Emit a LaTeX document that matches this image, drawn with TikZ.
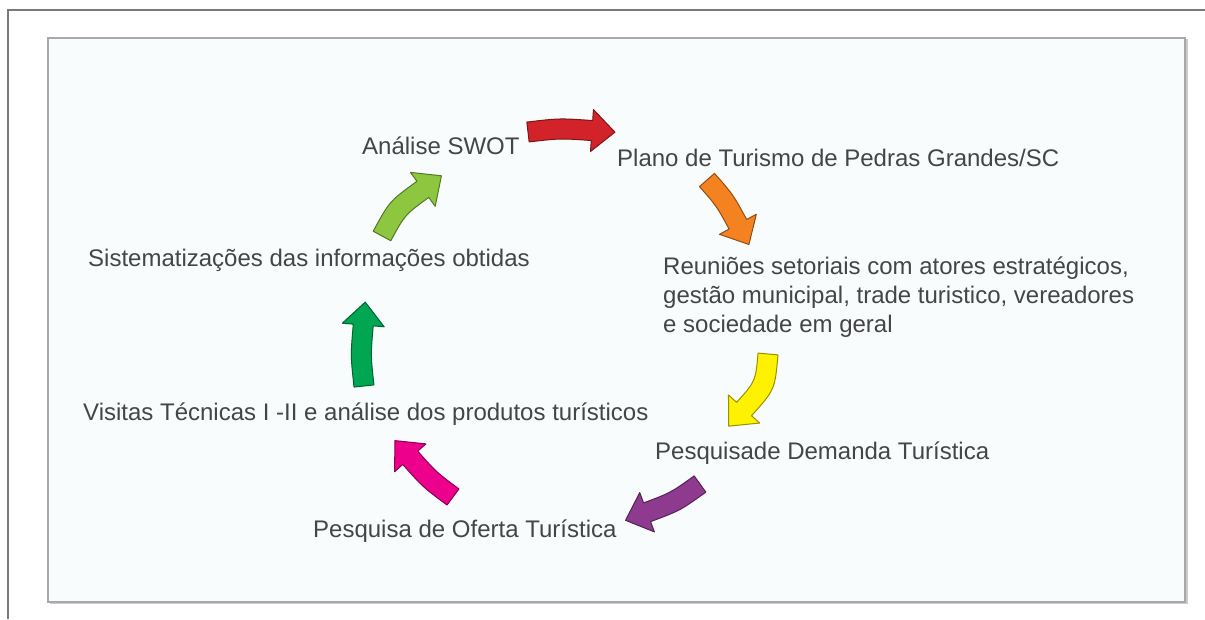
\documentclass[tikz,border=0pt]{standalone}
\usepackage{fontspec}
\setmainfont{Liberation Sans}
\definecolor{txt}{HTML}{454545}
\definecolor{framegray}{HTML}{7A7A7A}
\definecolor{boxgray}{HTML}{A8A8A8}
\definecolor{boxfill}{HTML}{F8FCFD}
\definecolor{cred}{HTML}{D2232A}
\definecolor{corange}{HTML}{F58220}
\definecolor{cyellow}{HTML}{FFF200}
\definecolor{cpurple}{HTML}{8E3A8F}
\definecolor{cpink}{HTML}{EC008C}
\definecolor{cgreen}{HTML}{00A651}
\definecolor{clgreen}{HTML}{8DC63F}
% curved block arrow: tail coordinate, chord angle, length, colour, bend
\newcommand\blockarrow[5]{%
  \pgfmathsetmacro\baS{#3-23}%
  \pgfmathsetmacro\baT{atan(2*(#5)/\baS)}%
  \pgfmathsetmacro\baSn{sin(\baT)}%
  \pgfmathsetmacro\baCs{cos(\baT)}%
  \begin{scope}[shift={(#1)}, rotate=#2]
    \draw[barrow, fill=#4, draw=#4!60!black]
      ({10*\baSn},{-10*\baCs})
      .. controls ({\baS/2},{#5-10/\baCs}) .. ({\baS-10*\baSn},{-10*\baCs})
      -- ({\baS-21*\baSn},{-21*\baCs})
      -- ({\baS+23*\baCs},{-23*\baSn})
      -- ({\baS+21*\baSn},{21*\baCs})
      -- ({\baS+10*\baSn},{10*\baCs})
      .. controls ({\baS/2},{#5+10/\baCs}) .. ({-10*\baSn},{10*\baCs})
      -- cycle;
  \end{scope}}
\begin{document}
\begin{tikzpicture}[x=1pt,y=1pt,
  lbl/.style={anchor=base west, inner sep=0pt, text=txt,
    font=\fontsize{24}{28.7}\selectfont},
  barrow/.style={line width=1pt, line join=round}]
\useasboundingbox (0,0) rectangle (1205,619);
\fill[white] (0,0) rectangle (1205,619);
% outer frame lines
\draw[framegray, line width=1.6pt] (8,0) -- (8,609) -- (1205,609);
% inner box
\draw[boxgray!60, line width=2pt] (49.5,16) -- (1186.5,16) -- (1186.5,580);
\draw[boxgray, line width=1.8pt, fill=boxfill] (48,17) rectangle (1185,581);
% labels
\node[lbl] (swot) at (362,464) {Análise SWOT};
\node[lbl] (plano) at (617,452) {Plano de Turismo de Pedras Grandes/SC};
\node[lbl] (reun1) at (663,344) {Reuniões setoriais com atores estratégicos,};
\node[lbl] (reun2) at (663,315.3) {gestão municipal, trade turistico, vereadores};
\node[lbl] (reun3) at (663,286.6) {e sociedade em geral};
\node[lbl] (dem) at (655,159) {Pesquisade Demanda Turística};
\node[lbl] (ofe) at (313,82) {Pesquisa de Oferta Turística};
\node[lbl] (vis) at (83,198) {Visitas Técnicas I -II e análise dos produtos turísticos};
\node[lbl] (sis) at (88,352) {Sistematizações das informações obtidas};
% arrow tails
\coordinate (tRed) at (528,487);
\coordinate (tOrange) at (707,439);
\coordinate (tYellow) at (768,265);
\coordinate (tPurple) at (700,135);
\coordinate (tPink) at (453,122);
\coordinate (tGreen) at (364,233);
\coordinate (tLgreen) at (382,383);
\blockarrow{tRed}{1.3}{87}{cred}{3}
\blockarrow{tOrange}{-55.1}{77}{corange}{3}
\blockarrow{tYellow}{-113.5}{83}{cyellow}{10}
\blockarrow{tPurple}{-151.9}{83}{cpurple}{4}
\blockarrow{tPink}{137.5}{81}{cpink}{3}
\blockarrow{tGreen}{90.7}{84}{cgreen}{3}
\blockarrow{tLgreen}{48.8}{85}{clgreen}{7}
\end{tikzpicture}
\end{document}
